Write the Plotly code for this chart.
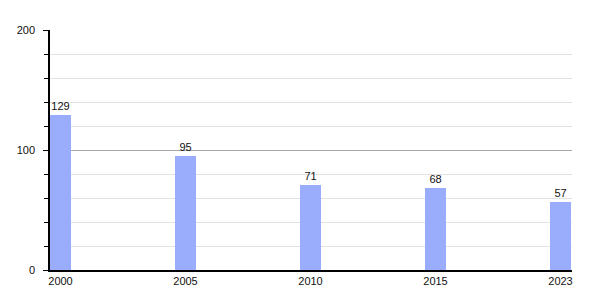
import plotly.graph_objects as go

years = ["2000", "2005", "2010", "2015", "2023"]
values = [129, 95, 71, 68, 57]
positions = list(range(len(years)))

fig = go.Figure(go.Bar(
    x=positions, y=values, width=0.168,
    marker=dict(color="#99adfc", line=dict(width=0)),
    text=[str(v) for v in values], textposition="outside",
    textfont=dict(size=11, color="#111111", family="Liberation Sans, Arial, sans-serif"),
    cliponaxis=False,
))

fig.update_layout(
    width=600, height=300,
    margin=dict(l=50, r=28, t=30, b=30),
    paper_bgcolor="white", plot_bgcolor="white",
    font=dict(family="Liberation Sans, Arial, sans-serif", size=11, color="#111111"),
    showlegend=False,
    bargap=0,
)
fig.update_xaxes(
    range=[-0.084, 4.092], tickvals=positions, ticktext=years,
    showgrid=False, showline=True, linecolor="black", linewidth=1.5,
    ticks="", ticklen=0, zeroline=False,
)
fig.update_yaxes(
    range=[0, 200], tickvals=[0, 100, 200],
    showgrid=True, gridcolor="#a8a8a8", gridwidth=1,
    showline=True, linecolor="black", linewidth=1.5,
    ticks="outside", ticklen=5, tickcolor="black",
    ticklabelstandoff=6,
    zeroline=False,
    minor=dict(dtick=20, showgrid=True, gridcolor="#e2e2e2", gridwidth=1,
               ticks="outside", ticklen=4, tickcolor="black"),
)

fig.write_html("out.html")
